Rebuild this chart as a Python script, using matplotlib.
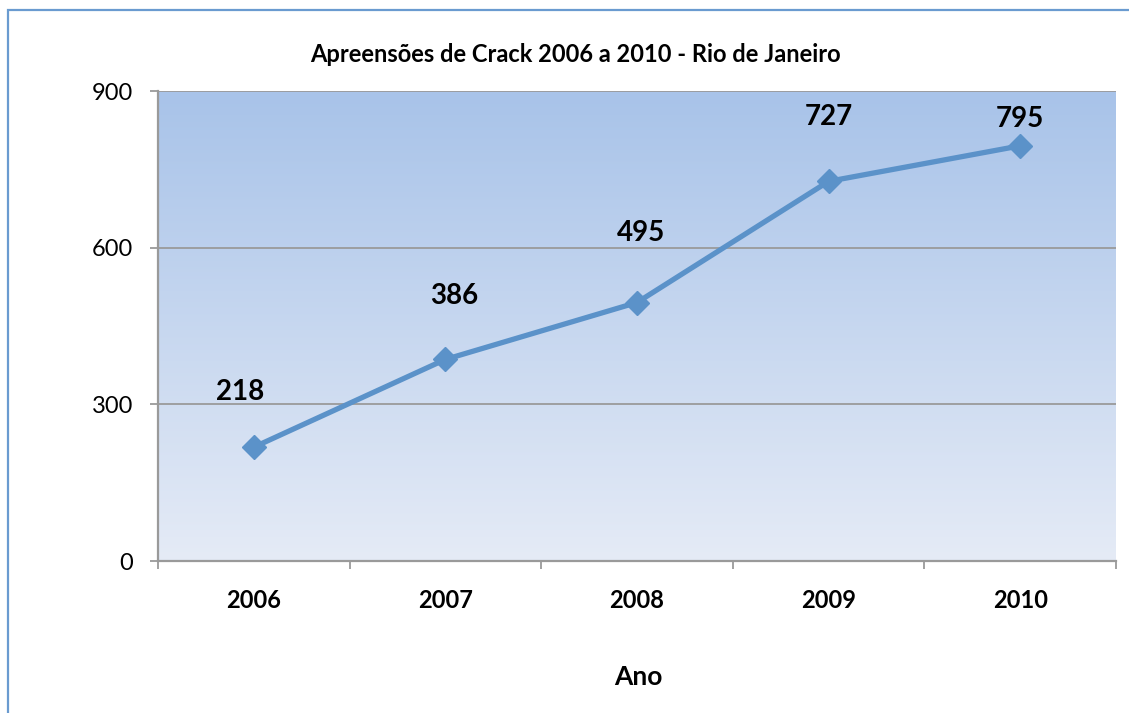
import matplotlib
matplotlib.use("Agg")
import matplotlib.pyplot as plt
import numpy as np
from matplotlib.patches import Rectangle
from matplotlib.colors import LinearSegmentedColormap

years = ["2006", "2007", "2008", "2009", "2010"]
values = [218, 386, 495, 727, 795]
yticks = [0, 300, 600, 900]

title = "Apreensões de Crack 2006 a 2010 - Rio de Janeiro"
xlabel = "Ano"

# label offsets in points (style)
label_offsets = [(-10, 40), (6, 46), (3, 50), (0, 46), (0, 19)]

plt.rcParams['font.family'] = ['Lato', 'DejaVu Sans']

W, H = 1129, 713
fig = plt.figure(figsize=(W / 100, H / 100), dpi=100)

# outer chart border
fig.patches.append(Rectangle((8 / W, -0.1), 1.2, 1 - 10 / H + 0.1, transform=fig.transFigure,
                             fill=False, edgecolor="#6a9bd0", linewidth=1.6))

ax = fig.add_axes([158 / W, 1 - 561 / H, (1116 - 158) / W, (561 - 91) / H])
x = np.arange(len(years))
ax.set_xlim(-0.5, len(years) - 0.5)
ax.set_ylim(0, 900)

cmap = LinearSegmentedColormap.from_list("g", ["#e5ebf6", "#a8c3e9"])
grad = np.linspace(0, 1, 256).reshape(-1, 1)
ax.imshow(grad, cmap=cmap, aspect="auto", origin="lower",
          extent=[-0.5, len(years) - 0.5, 0, 900], zorder=0)

for yv in yticks[1:]:
    ax.axhline(yv, color="#9a9a9a", linewidth=1.3, zorder=1)

ax.plot(x, values, color="#5b92c9", linewidth=3.8, marker="D", markersize=12,
        markerfacecolor="#5b92c9", markeredgecolor="#5b92c9", zorder=3, clip_on=False)

for xi, v, (dx, dy) in zip(x, values, label_offsets):
    ax.annotate(str(v), (xi, v), xytext=(dx, dy), textcoords="offset points",
                ha="center", va="center", fontsize=20, fontweight="bold", color="black")

ax.set_yticks(yticks)
ax.set_yticklabels([str(t) for t in yticks], fontsize=17)
ax.set_xticks(np.arange(-0.5, len(years), 1.0))
ax.set_xticklabels([])
ax.set_xticks(x, minor=True)
ax.set_xticklabels(years, minor=True, fontsize=17, fontweight="bold")
ax.tick_params(axis="x", which="minor", length=0, pad=20)
ax.tick_params(axis="x", which="major", length=6, color="#9a9a9a", width=1.3)
ax.tick_params(axis="y", length=6, color="#9a9a9a", width=1.3, pad=12)

for s in ["top", "right"]:
    ax.spines[s].set_visible(False)
for s in ["left", "bottom"]:
    ax.spines[s].set_color("#9a9a9a")
    ax.spines[s].set_linewidth(1.6)

fig.text((303 + 847) / 2 / W, 1 - 55 / H, title, ha="center", va="center",
         fontsize=17, fontweight="bold")
fig.text(638 / W, 1 - 677 / H, xlabel, ha="center", va="center",
         fontsize=19, fontweight="bold")

fig.savefig("out.png", dpi=100)
